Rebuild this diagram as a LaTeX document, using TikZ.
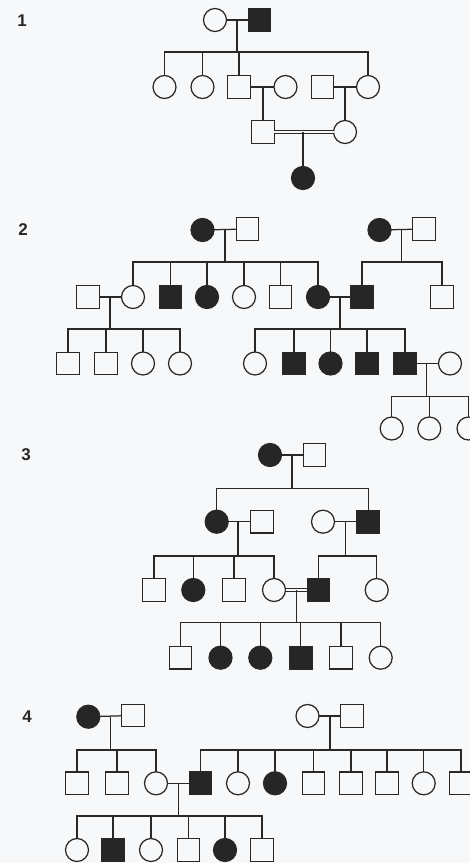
\documentclass[tikz,border=0pt]{standalone}
\usepackage{fontspec}
\setmainfont{Liberation Sans}
\definecolor{ink}{RGB}{40,40,40}
\definecolor{paper}{RGB}{246,248,249}
\definecolor{affcol}{RGB}{38,38,38}
\begin{document}
\begin{tikzpicture}[x=1pt,y=-1pt,
  base/.style={draw=ink,line width=1.25pt,inner sep=0pt,outer sep=0pt},
  fem/.style={base,circle,minimum size=23pt},
  mal/.style={base,rectangle,minimum size=22.5pt},
  aff/.style={fill=affcol},
  lbl/.style={font=\bfseries\fontsize{17}{17}\selectfont,text=ink},
  ln/.style={draw=ink,line width=1.25pt},
  dbl/.style={draw=ink,line width=0.95pt,double=paper,double distance=1.6pt}]
\fill[paper] (0,0) rectangle (470,863);
\useasboundingbox (0,0) rectangle (470,863);
\clip (0,0) rectangle (470,863);

% ---------------- Pedigree 1
\node[lbl] (L1) at (22,21) {1};
\node[fem] (a1) at (215,20) {};
\node[mal,aff] (a2) at (259.5,20) {};
\node[fem] (a3) at (164.5,87) {};
\node[fem] (a4) at (202.5,87) {};
\node[mal] (a5) at (239,87) {};
\node[fem] (a6) at (285.5,87) {};
\node[mal] (a7) at (322.5,87) {};
\node[fem] (a8) at (368,87) {};
\node[mal] (a9) at (263,132) {};
\node[fem] (a10) at (345,132) {};
\node[fem,aff] (a11) at (303,178) {};
\coordinate (ma1) at (237,20);
\coordinate (sa1) at (237,52);
\draw[ln] (a1) -- (a2);
\draw[ln] (ma1) -- (sa1);
\draw[ln] (a3.north) -- (a3.north |- sa1) -- (a8.north |- sa1) -- (a8.north);
\draw[ln] (a4.north) -- (a4.north |- sa1);
\draw[ln] (a5.north) -- (a5.north |- sa1);
\coordinate (ma2) at (263,87);
\draw[ln] (a5) -- (a6);
\draw[ln] (ma2) -- (a9.north);
\coordinate (ma3) at (345,87);
\draw[ln] (a7) -- (a8);
\draw[ln] (ma3) -- (a10.north);
\coordinate (ma4) at (303,132);
\draw[dbl] (a9) -- (a10);
\draw[ln] (ma4) -- (a11.north);

% ---------------- Pedigree 2
\node[lbl] (L2) at (23,230) {2};
\node[fem,aff] (b1) at (202.5,230) {};
\node[mal] (b2) at (247.5,229) {};
\node[mal] (b3) at (88,297) {};
\node[fem] (b4) at (133,297) {};
\node[mal,aff] (b5) at (170.5,297) {};
\node[fem,aff] (b6) at (207,297) {};
\node[fem] (b7) at (244,297) {};
\node[mal] (b8) at (280.5,297) {};
\node[fem,aff] (b9) at (318,297) {};
\node[mal,aff] (b10) at (362,297) {};
\node[mal] (b11) at (442,297) {};
\node[fem,aff] (b12) at (379.5,230) {};
\node[mal] (b13) at (424,229) {};
\node[mal] (b14) at (68,363.5) {};
\node[mal] (b15) at (106,363.5) {};
\node[fem] (b16) at (143,363.5) {};
\node[fem] (b17) at (180,363.5) {};
\node[fem] (b18) at (255,363.5) {};
\node[mal,aff] (b19) at (294,363.5) {};
\node[fem,aff] (b20) at (330.5,363.5) {};
\node[mal,aff] (b21) at (367,363.5) {};
\node[mal,aff] (b22) at (405,363.5) {};
\node[fem] (b23) at (450,363.5) {};
\node[fem] (b24) at (391.7,428.5) {};
\node[fem] (b25) at (429.3,428.5) {};
\node[fem] (b26) at (468.5,428.5) {};
% b1 x b2
\coordinate (mb1) at (225,230);
\coordinate (sb1) at (225,262);
\draw[ln] (b1) -- (b2);
\draw[ln] (mb1) -- (sb1);
\draw[ln] (b4.north) -- (b4.north |- sb1) -- (b9.north |- sb1) -- (b9.north);
\foreach \c in {b5,b6,b7,b8} \draw[ln] (\c.north) -- (\c.north |- sb1);
% b12 x b13
\coordinate (mb2) at (401.7,230);
\coordinate (sb2) at (401.7,262);
\draw[ln] (b12) -- (b13);
\draw[ln] (mb2) -- (sb2);
\draw[ln] (b10.north) -- (b10.north |- sb2) -- (b11.north |- sb2) -- (b11.north);
% b3 x b4
\coordinate (mb3) at (110,297);
\coordinate (sb3) at (110,329);
\draw[ln] (b3) -- (b4);
\draw[ln] (mb3) -- (sb3);
\draw[ln] (b14.north) -- (b14.north |- sb3) -- (b17.north |- sb3) -- (b17.north);
\foreach \c in {b15,b16} \draw[ln] (\c.north) -- (\c.north |- sb3);
% b9 x b10
\coordinate (mb4) at (340,297);
\coordinate (sb4) at (340,329);
\draw[ln] (b9) -- (b10);
\draw[ln] (mb4) -- (sb4);
\draw[ln] (b18.north) -- (b18.north |- sb4) -- (b22.north |- sb4) -- (b22.north);
\foreach \c in {b19,b20,b21} \draw[ln] (\c.north) -- (\c.north |- sb4);
% b22 x b23
\coordinate (mb5) at (426.7,363.5);
\coordinate (sb5) at (426.7,396.7);
\draw[ln] (b22) -- (b23);
\draw[ln] (mb5) -- (sb5);
\draw[ln] (b24.north) -- (b24.north |- sb5) -- (b26.north |- sb5) -- (b26.north);
\draw[ln] (b25.north) -- (b25.north |- sb5);

% ---------------- Pedigree 3
\node[lbl] (L3) at (26,455) {3};
\node[fem,aff] (c1) at (270,455) {};
\node[mal] (c2) at (314.5,455) {};
\node[fem,aff] (c3) at (216.7,521.7) {};
\node[mal] (c4) at (262,521.7) {};
\node[fem] (c5) at (323,521.7) {};
\node[mal,aff] (c6) at (368.3,521.7) {};
\node[mal] (c7) at (154,590) {};
\node[fem,aff] (c8) at (193.3,590) {};
\node[mal] (c9) at (234,590) {};
\node[fem] (c10) at (274,590) {};
\node[mal,aff] (c11) at (318.5,590) {};
\node[fem] (c12) at (376.7,590) {};
\node[mal] (c13) at (180.5,657.7) {};
\node[fem,aff] (c14) at (220.5,657.7) {};
\node[fem,aff] (c15) at (260.3,657.7) {};
\node[mal,aff] (c16) at (300.8,657.7) {};
\node[mal] (c17) at (341,657.7) {};
\node[fem] (c18) at (380.7,657.7) {};
\coordinate (mc1) at (292,455);
\coordinate (sc1) at (292,488.3);
\draw[ln] (c1) -- (c2);
\draw[ln] (mc1) -- (sc1);
\draw[ln] (c3.north) -- (c3.north |- sc1) -- (c6.north |- sc1) -- (c6.north);
\coordinate (mc2) at (238,521.7);
\coordinate (sc2) at (238,556);
\draw[ln] (c3) -- (c4);
\draw[ln] (mc2) -- (sc2);
\draw[ln] (c7.north) -- (c7.north |- sc2) -- (c10.north |- sc2) -- (c10.north);
\foreach \c in {c8,c9} \draw[ln] (\c.north) -- (\c.north |- sc2);
\coordinate (mc3) at (345.7,521.7);
\coordinate (sc3) at (345.7,556);
\draw[ln] (c5) -- (c6);
\draw[ln] (mc3) -- (sc3);
\draw[ln] (c11.north) -- (c11.north |- sc3) -- (c12.north |- sc3) -- (c12.north);
\coordinate (mc4) at (296.7,590);
\coordinate (sc4) at (296.7,622.7);
\draw[dbl] (c10) -- (c11);
\draw[ln] (mc4) -- (sc4);
\draw[ln] (c13.north) -- (c13.north |- sc4) -- (c18.north |- sc4) -- (c18.north);
\foreach \c in {c14,c15,c16,c17} \draw[ln] (\c.north) -- (\c.north |- sc4);

% ---------------- Pedigree 4
\node[lbl] (L4) at (27,716.7) {4};
\node[fem,aff] (d1) at (88.3,716.7) {};
\node[mal] (d2) at (133,715.5) {};
\node[mal] (d3) at (77,783.3) {};
\node[mal] (d4) at (117,783.3) {};
\node[fem] (d5) at (156,783.3) {};
\node[fem] (d6) at (307.5,716) {};
\node[mal] (d7) at (352,716) {};
\node[mal,aff] (d8) at (200.5,783.3) {};
\node[fem] (d9) at (238,783.3) {};
\node[fem,aff] (d10) at (275,783.3) {};
\node[mal] (d11) at (313.5,783.3) {};
\node[mal] (d12) at (351,783.3) {};
\node[mal] (d13) at (387,783.3) {};
\node[fem] (d14) at (423.7,783.3) {};
\node[mal] (d15) at (461,783.3) {};
\node[fem] (d16) at (77,850) {};
\node[mal,aff] (d17) at (113,850) {};
\node[fem] (d18) at (151,850) {};
\node[mal] (d19) at (188.5,850) {};
\node[fem,aff] (d20) at (225,850) {};
\node[mal] (d21) at (262,850) {};
\coordinate (md1) at (110.7,716.7);
\coordinate (sd1) at (110.7,750);
\draw[ln] (d1) -- (d2);
\draw[ln] (md1) -- (sd1);
\draw[ln] (d3.north) -- (d3.north |- sd1) -- (d5.north |- sd1) -- (d5.north);
\draw[ln] (d4.north) -- (d4.north |- sd1);
\coordinate (md2) at (330,716);
\coordinate (sd2) at (330,750);
\draw[ln] (d6) -- (d7);
\draw[ln] (md2) -- (sd2);
\draw[ln] (d8.north) -- (d8.north |- sd2) -- (d15.north |- sd2) -- (d15.north);
\foreach \c in {d9,d10,d11,d12,d13,d14} \draw[ln] (\c.north) -- (\c.north |- sd2);
\coordinate (md3) at (178.3,783.3);
\coordinate (sd3) at (178.3,816);
\draw[ln] (d5) -- (d8);
\draw[ln] (md3) -- (sd3);
\draw[ln] (d16.north) -- (d16.north |- sd3) -- (d21.north |- sd3) -- (d21.north);
\foreach \c in {d17,d18,d19,d20} \draw[ln] (\c.north) -- (\c.north |- sd3);
\end{tikzpicture}
\end{document}
